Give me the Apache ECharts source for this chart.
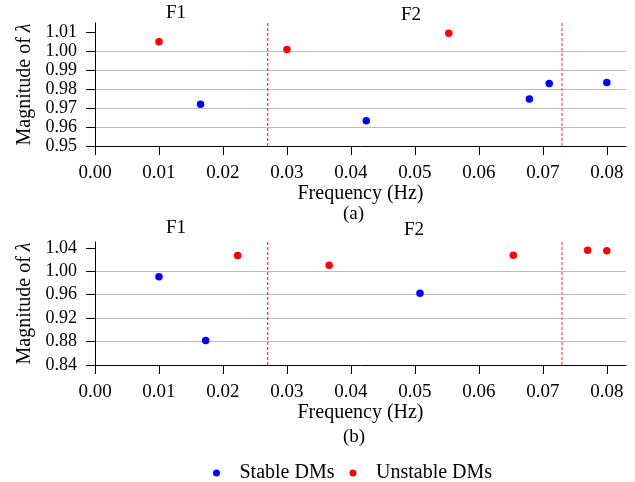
<!DOCTYPE html>
<html>
<head>
<meta charset="utf-8">
<script src="https://cdn.jsdelivr.net/npm/echarts@6/dist/echarts.min.js"></script>
<style>html,body{margin:0;padding:0;background:#fff}#c{width:635px;height:482px}</style>
</head>
<body>
<div id="c"></div>
<script>
// ---- data ----
var xTicks = [0.00, 0.01, 0.02, 0.03, 0.04, 0.05, 0.06, 0.07, 0.08];
var yTicksA = [0.95, 0.96, 0.97, 0.98, 0.99, 1.00, 1.01];
var yTicksB = [0.84, 0.88, 0.92, 0.96, 1.00, 1.04];
var boundaries = [0.027, 0.073];

var stableA_x = [0.0165, 0.0424, 0.0679, 0.0710, 0.0800];
var stableA_y = [0.9721, 0.9634, 0.9749, 0.9830, 0.9835];
var unstableA_x = [0.0100, 0.0300, 0.0553];
var unstableA_y = [1.0051, 1.0010, 1.0096];

var stableB_x = [0.0100, 0.0173, 0.0508];
var stableB_y = [0.9906, 0.8817, 0.9627];
var unstableB_x = [0.0223, 0.0366, 0.0654, 0.0770, 0.0800];
var unstableB_y = [1.0269, 1.0104, 1.0274, 1.0359, 1.0349];

function pairs(xs, ys) { return xs.map(function (x, i) { return [x, ys[i]]; }); }

var FONT = 'Liberation Serif';
var chart = echarts.init(document.getElementById('c'), null, {renderer: 'canvas'});

var rangeA = [0.95, 1.015], rangeB = [0.84, 1.05];

function xAxisDef(gi) {
  return {
    type: 'value', gridIndex: gi, min: 0, max: 0.083, interval: 0.01,
    name: 'Frequency (Hz)', nameLocation: 'middle', nameGap: 37,
    nameTextStyle: {fontFamily: FONT, fontSize: 20, color: '#000'},
    axisLine: {onZero: false, lineStyle: {color: '#000', width: 1}},
    axisTick: {show: true, length: 9, lineStyle: {color: '#000'}, customValues: xTicks},
    axisLabel: {fontFamily: FONT, fontSize: 19, color: '#000', margin: 18, customValues: xTicks,
      formatter: function (v) { return v.toFixed(2); }},
    splitLine: {show: false}
  };
}
function yAxisDef(gi, range, interval, ticks) {
  return {
    type: 'value', gridIndex: gi, min: range[0], max: range[1], interval: interval,
    name: 'Magnitude of {i|λ}', nameLocation: 'middle', nameGap: 56,
    nameTextStyle: {fontFamily: FONT, fontSize: 20, color: '#000',
      rich: {i: {fontFamily: FONT, fontSize: 20, fontStyle: 'italic', color: '#000'}}},
    axisLine: {show: true, onZero: false, lineStyle: {color: '#000', width: 1}},
    axisTick: {show: true, length: 9, lineStyle: {color: '#000'}, customValues: ticks},
    axisLabel: {fontFamily: FONT, fontSize: 18, color: '#000', margin: 18, customValues: ticks,
      formatter: function (v) { return v.toFixed(2); }},
    splitLine: {show: true, showMinLine: false, showMaxLine: false, lineStyle: {color: '#bdbdbd', width: 1}}
  };
}
function vLine(gi, x, range, color, width) {
  return {
    type: 'line', xAxisIndex: gi, yAxisIndex: gi, silent: true, symbol: 'none',
    data: [[x, range[0]], [x, range[1]]],
    lineStyle: {color: color, type: [3, 2], width: width},
    emphasis: {disabled: true}, z: 3
  };
}
function sc(name, gi, data, color) {
  return {
    name: name, type: 'scatter', xAxisIndex: gi, yAxisIndex: gi,
    data: data, symbol: 'circle', symbolSize: 7.5,
    itemStyle: {color: color, opacity: 1}, z: 5
  };
}
function txt(t, x, y, size) {
  return {type: 'text', left: x, top: y, style: {text: t, fontFamily: FONT, fontSize: size, fill: '#000'}};
}

chart.setOption({
  animation: false,
  backgroundColor: '#fff',
  grid: [
    {left: 95, right: 9, top: 23, height: 123},
    {left: 95, right: 9, top: 242, height: 123}
  ],
  xAxis: [xAxisDef(0), xAxisDef(1)],
  yAxis: [
    yAxisDef(0, rangeA, 0.01, yTicksA),
    yAxisDef(1, rangeB, 0.04, yTicksB)
  ],
  legend: {
    data: ['Stable DMs', 'Unstable DMs'],
    left: 208, top: 458, icon: 'circle', itemWidth: 36, itemHeight: 7, itemGap: 15,
    itemStyle: {opacity: 1},
    textStyle: {fontFamily: FONT, fontSize: 20, color: '#000'}
  },
  graphic: [
    txt('F1', 166, 4, 19),
    txt('F2', 401, 6, 19),
    txt('(a)', 343, 205, 19),
    txt('F1', 166, 219, 19),
    txt('F2', 404, 221, 19),
    txt('(b)', 343, 428, 19)
  ],
  series: [
    vLine(0, boundaries[0], rangeA, '#ff0000', 1),
    vLine(0, boundaries[1], rangeA, '#ff7070', 1.5),
    vLine(1, boundaries[0], rangeB, '#ff0000', 1),
    vLine(1, boundaries[1], rangeB, '#ff7070', 1.5),
    sc('Stable DMs', 0, pairs(stableA_x, stableA_y), '#0000ff'),
    sc('Unstable DMs', 0, pairs(unstableA_x, unstableA_y), '#ff0000'),
    sc('Stable DMs', 1, pairs(stableB_x, stableB_y), '#0000ff'),
    sc('Unstable DMs', 1, pairs(unstableB_x, unstableB_y), '#ff0000')
  ]
});
</script>
</body>
</html>
